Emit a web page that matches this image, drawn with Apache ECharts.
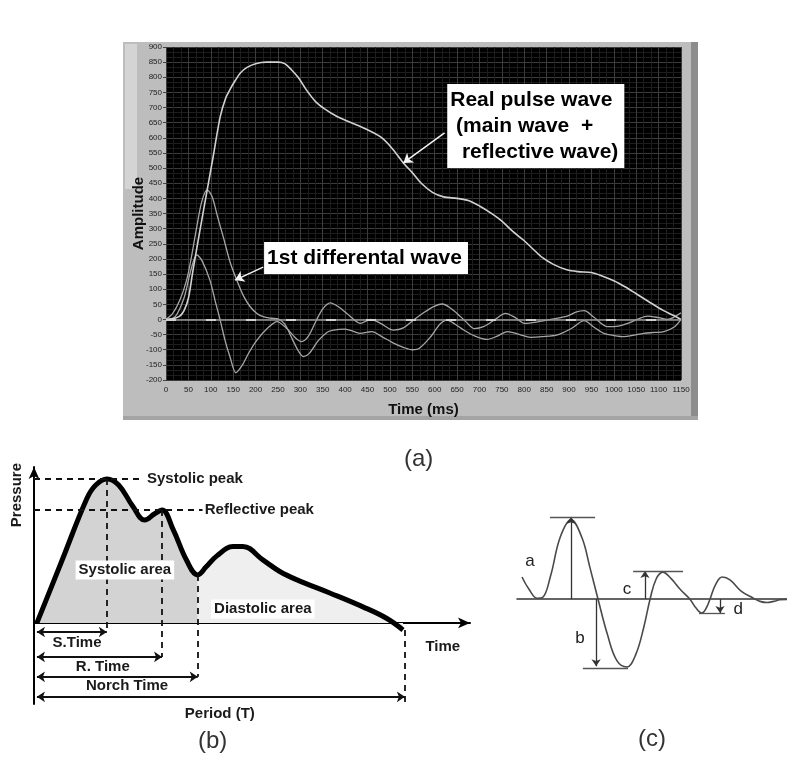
<!DOCTYPE html>
<html>
<head>
<meta charset="utf-8">
<script src="https://cdn.jsdelivr.net/npm/echarts@6/dist/echarts.min.js"></script>
<style>
html, body { margin: 0; padding: 0; background: #fff; }
#chart-container { width: 787px; height: 760px; }
</style>
</head>
<body>
<div id="chart-container"></div>
<script>
// ---- (a) recorded waves: [time ms, amplitude]
var pulseWave = [[0,0],[15,2],[30,10],[40,28],[50,70],[60,160],[76,296],[92,428],[105,535],[121,669],[133,730],[143,760],[155,790],[166,814],[180,832],[200,845],[225,850],[250,850],[265,845],[280,825],[295,800],[315,755],[335,718],[355,695],[380,672],[410,652],[445,630],[480,602],[505,565],[530,517],[550,485],[570,450],[595,420],[620,405],[650,400],[675,393],[700,375],[725,352],[750,325],[775,290],[800,260],[820,232],[840,205],[865,182],[895,164],[920,158],[950,155],[975,143],[1000,128],[1025,108],[1050,85],[1080,57],[1110,30],[1135,12],[1150,0]];
var diffWaveB = [[0,0],[15,20],[31,64],[46,130],[56,200],[68,300],[80,390],[92,428],[103,405],[115,340],[128,272],[143,190],[158,130],[173,78],[188,42],[203,20],[217,9],[235,4],[250,2],[265,-15],[282,-65],[296,-105],[307,-123],[320,-112],[340,-70],[360,-42],[374,-35],[400,-32],[420,-40],[434,-46],[450,-42],[460,-40],[480,-55],[508,-78],[530,-92],[550,-100],[565,-96],[591,-57],[612,-15],[628,-2],[645,-15],[665,-35],[690,-55],[717,-66],[740,-55],[762,-40],[790,-50],[814,-59],[840,-57],[874,-51],[905,-30],[934,-4],[955,-25],[978,-46],[1000,-53],[1023,-57],[1045,-52],[1067,-46],[1090,-43],[1112,-40],[1135,-25],[1150,0]];
var diffWaveC = [[0,0],[20,8],[40,70],[55,160],[69,213],[80,195],[98,130],[110,60],[121,-2],[132,-70],[143,-124],[156,-176],[170,-152],[185,-110],[203,-68],[226,-30],[248,-7],[270,-30],[290,-62],[303,-73],[318,-55],[335,-5],[350,35],[367,55],[385,42],[404,20],[434,-13],[457,0],[478,-12],[508,-35],[530,-28],[550,-5],[575,22],[600,44],[617,51],[635,38],[650,20],[670,-8],[688,-30],[709,-24],[735,0],[758,20],[780,6],[800,-13],[830,-8],[859,0],[896,11],[915,24],[934,29],[955,8],[986,-24],[1010,-22],[1031,-13],[1055,2],[1075,11],[1100,6],[1120,0],[1135,8],[1150,22]];
var waveLabels = [
  ['Real pulse wave\n (main wave  +\n  reflective wave)', 628, 778],
  ['1st differental wave', 219, 256]
];
var waveArrows = [[[622,616],[530,517]], [[217,173],[154,130]]];

// ---- (b) schematic pulse: [% of period, pressure]
var schemePulse = [[0,0],[6.8,40],[13.6,80],[16,88.5],[19,92.3],[22.2,88.5],[26,75],[29.3,66],[32,70],[34,72.4],[37,60],[40.7,40],[43.7,30.8],[46,36],[48.9,43],[53.3,49],[56,49],[61.4,40.4],[66,33],[70.7,27.6],[79.6,19.2],[88.6,10.3],[95,3],[99.5,-4.5]];
var notchTime = 43.7;
var schemeDashes = [
  [[-0.8,92.3],[29,92.3]], [[-0.8,72.4],[45,72.4]],
  [[19,92.3],[19,-5.8]], [[34,72.4],[34,-21.8]],
  [[43.7,30.8],[43.7,-34.6]], [[100,-4.5],[100,-52]]
];
var schemeSpans = [
  [[0,-5.8],[19,-5.8]], [[0,-21.8],[34,-21.8]],
  [[0,-34.6],[43.7,-34.6]], [[0,-47.4],[100,-47.4]]
];
var schemeLabels = [
  ['Systolic peak', 29.9, 92.3, 'left'],
  ['Reflective peak', 45.6, 72.4, 'left'],
  ['S.Time', 10.9, -12.6, 'center'],
  ['R. Time', 17.9, -28.2, 'center'],
  ['Norch Time', 24.5, -40.6, 'center'],
  ['Period (T)', 49.7, -58.3, 'center'],
  ['Time', 110.3, -15.4, 'center']
];
var areaLabels = [['Systolic area', 23.9, 34], ['Diastolic area', 61.4, 9]];

// ---- (c) first derivative sketch: [position, amplitude]
var derivWave = [[1.85,27.8],[4.5,12],[7.5,1],[9.5,2],[12.5,30],[16,78],[20,100],[24,78],[27,40],[30,0],[33.5,-45],[37,-78],[40.7,-86],[44,-70],[47,-35],[49.3,0],[51.5,25],[54,34],[57,26],[60.5,12],[64,0],[66,-10],[68.5,-17.7],[70,-12],[71.5,0],[73.5,18],[76,27.8],[79,24],[83,10],[87.4,1.3],[90,-3],[92.6,-4.5],[95,-3],[97.4,-1],[100,-0.5]];
var derivArrows = [[[20,0],[20,103.8]], [[29.3,0],[29.3,-85]], [[47.4,0],[47.4,35.4]], [[75.2,0],[75.2,-17.7]]];
var derivLevels = [[[12.2,103.8],[28.9,103.8]], [[24.4,-87.3],[41.1,-87.3]], [[43,35.4],[61.5,35.4]], [[67.4,-17.7],[77,-17.7]]];
var derivLabels = [['a', 4.8, 48], ['b', 23.3, -49.4], ['c', 40.7, 12.7], ['d', 81.9, -12.7]];

var chartDom = document.getElementById('chart-container');
var myChart = echarts.init(chartDom);
var sans = 'Liberation Sans, Arial, sans-serif';

function segs(list) {
  return list.map(function (s) { return [{ coord: s[0] }, { coord: s[1] }]; });
}
function hiddenAxis(idx, min, max) {
  return { gridIndex: idx, type: 'value', min: min, max: max, axisLabel: { show: false },
    axisTick: { show: false }, splitLine: { show: false }, axisLine: { show: false } };
}
function textSeries(xi, yi, data, label) {
  return { type: 'scatter', xAxisIndex: xi, yAxisIndex: yi, symbolSize: 0, clip: false, z: 6,
    silent: true, itemStyle: { opacity: 1 }, data: data, label: label };
}
function plain(v) { return String(v); }

var option = {
  animation: false,
  backgroundColor: '#fff',
  title: [
    { text: '(a)', left: 404, top: 447, padding: 0, textStyle: { fontSize: 24, fontWeight: 'normal', color: '#333', fontFamily: sans } },
    { text: '(b)', left: 198, top: 729, padding: 0, textStyle: { fontSize: 24, fontWeight: 'normal', color: '#333', fontFamily: sans } },
    { text: '(c)', left: 638, top: 727, padding: 0, textStyle: { fontSize: 24, fontWeight: 'normal', color: '#333', fontFamily: sans } }
  ],
  graphic: [
    { type: 'rect', z: -10, shape: { x: 123, y: 42, width: 575, height: 378 }, style: { fill: '#bdbdbd' } },
    { type: 'rect', z: -10, shape: { x: 125, y: 44, width: 12, height: 145 }, style: { fill: '#d4d4d4' } },
    { type: 'rect', z: -10, shape: { x: 691, y: 42, width: 7, height: 378 }, style: { fill: '#8c8c8c' } },
    { type: 'rect', z: -10, shape: { x: 123, y: 416, width: 575, height: 4 }, style: { fill: '#a4a4a4' } }
  ],
  grid: [
    { left: 166, top: 47, width: 515, height: 333, show: true, backgroundColor: '#000', borderWidth: 0 },
    { left: 34, top: 467, width: 436, height: 237 },
    { left: 517, top: 512, width: 270, height: 174 }
  ],
  xAxis: [
    { gridIndex: 0, type: 'value', min: 0, max: 1150, interval: 50,
      name: 'Time (ms)', nameLocation: 'middle', nameGap: 22, nameMoveOverlap: false,
      nameTextStyle: { fontSize: 15, fontWeight: 'bold', color: '#111', fontFamily: sans },
      axisLine: { show: false },
      axisTick: { show: true, length: 3, lineStyle: { color: '#444' } },
      axisLabel: { interval: 0, fontSize: 8, color: '#222', margin: 6, fontFamily: sans, formatter: plain, hideOverlap: false },
      splitLine: { show: true, lineStyle: { color: '#3c3c3c', width: 1 } },
      minorTick: { show: false, splitNumber: 3 },
      minorSplitLine: { show: true, lineStyle: { color: '#1d1d1d', width: 1 } } },
    { gridIndex: 1, type: 'value', min: -0.8, max: 117.7,
      axisLine: { show: true, onZero: true, symbol: ['none', 'arrow'], symbolSize: [8, 12], lineStyle: { color: '#000', width: 2 } },
      axisTick: { show: false }, axisLabel: { show: false }, splitLine: { show: false } },
    { gridIndex: 2, type: 'value', min: 0, max: 100,
      axisLine: { show: true, onZero: true, lineStyle: { color: '#333', width: 1.5 } },
      axisTick: { show: false }, axisLabel: { show: false }, splitLine: { show: false } }
  ],
  yAxis: [
    { gridIndex: 0, type: 'value', min: -200, max: 900, interval: 50,
      name: 'Amplitude', nameLocation: 'middle', nameGap: 20, nameRotate: 90, nameMoveOverlap: false,
      nameTextStyle: { fontSize: 15, fontWeight: 'bold', color: '#111', fontFamily: sans },
      axisLine: { show: false },
      axisTick: { show: true, length: 3, lineStyle: { color: '#444' } },
      axisLabel: { fontSize: 8, color: '#222', margin: 4, fontFamily: sans, formatter: plain },
      splitLine: { show: true, lineStyle: { color: '#3c3c3c', width: 1 } },
      minorTick: { show: false, splitNumber: 3 },
      minorSplitLine: { show: true, lineStyle: { color: '#1d1d1d', width: 1 } } },
    { gridIndex: 1, type: 'value', min: -52, max: 100,
      axisLine: { show: true, onZero: false, symbol: ['none', 'arrow'], symbolSize: [8, 12], lineStyle: { color: '#000', width: 2 } },
      axisTick: { show: false }, axisLabel: { show: false }, splitLine: { show: false } },
    hiddenAxis(2, -110, 110)
  ],
  series: [
    // (a)
    { type: 'line', xAxisIndex: 0, yAxisIndex: 0, data: [], silent: true,
      markLine: { silent: true, symbol: 'none', label: { show: false },
        lineStyle: { color: '#9a9a9a', width: 1.5, type: 'solid' }, data: [{ yAxis: 0 }] } },
    { type: 'line', xAxisIndex: 0, yAxisIndex: 0, data: [], silent: true,
      markLine: { silent: true, symbol: 'none', label: { show: false },
        lineStyle: { color: '#d0d0d0', width: 2, type: [10, 30] }, data: [{ yAxis: 0 }] } },
    { type: 'line', xAxisIndex: 0, yAxisIndex: 0, data: diffWaveB, smooth: 0.3, showSymbol: false,
      lineStyle: { color: '#a6a6a6', width: 1.3 } },
    { type: 'line', xAxisIndex: 0, yAxisIndex: 0, data: diffWaveC, smooth: 0.3, showSymbol: false,
      lineStyle: { color: '#a6a6a6', width: 1.3 } },
    { type: 'line', xAxisIndex: 0, yAxisIndex: 0, data: pulseWave, smooth: 0.3, showSymbol: false,
      lineStyle: { color: '#d2d2d2', width: 1.6 } },
    { type: 'line', xAxisIndex: 0, yAxisIndex: 0, data: [], silent: true,
      markLine: { silent: true, symbol: ['none', 'arrow'], symbolSize: 9, label: { show: false },
        lineStyle: { color: '#f4f4f4', width: 1.5, type: 'solid' }, data: segs(waveArrows) } },
    textSeries(0, 0, waveLabels.map(function (l) { return { name: l[0], value: [l[1], l[2]] }; }),
      { show: true, position: [0, 0], align: 'left', verticalAlign: 'top', formatter: '{b}',
        backgroundColor: '#fff', padding: [3, 6, 3, 3], fontSize: 21, lineHeight: 26,
        fontWeight: 'bold', color: '#000', fontFamily: sans }),

    // (b)
    { type: 'line', xAxisIndex: 1, yAxisIndex: 1, smooth: 0.4, showSymbol: false, z: 1,
      data: schemePulse.filter(function (p) { return p[0] <= notchTime; }),
      lineStyle: { width: 0 }, areaStyle: { color: '#d3d3d3', opacity: 1 } },
    { type: 'line', xAxisIndex: 1, yAxisIndex: 1, smooth: 0.4, showSymbol: false, z: 1,
      data: schemePulse.filter(function (p) { return p[0] >= notchTime; }),
      lineStyle: { width: 0 }, areaStyle: { color: '#efefef', opacity: 1 } },
    { type: 'line', xAxisIndex: 1, yAxisIndex: 1, data: [], silent: true, z: 3,
      markLine: { silent: true, symbol: 'none', label: { show: false },
        lineStyle: { color: '#111', width: 1.8, type: [6, 5] }, data: segs(schemeDashes) } },
    { type: 'line', xAxisIndex: 1, yAxisIndex: 1, data: [], silent: true, z: 3,
      markLine: { silent: true, symbol: ['arrow', 'arrow'], symbolSize: 8, label: { show: false },
        lineStyle: { color: '#111', width: 1.8, type: 'solid' }, data: segs(schemeSpans) } },
    { type: 'line', xAxisIndex: 1, yAxisIndex: 1, data: schemePulse, smooth: 0.4, showSymbol: false, z: 4,
      lineStyle: { color: '#000', width: 5 } },
    textSeries(1, 1, schemeLabels.map(function (l) {
        return { name: l[0], value: [l[1], l[2]], label: { align: l[3] } }; }),
      { show: true, position: [0, 0], verticalAlign: 'middle', formatter: '{b}',
        fontSize: 15, fontWeight: 'bold', color: '#1a1a1a', fontFamily: sans }),
    textSeries(1, 1, areaLabels.map(function (l) { return { name: l[0], value: [l[1], l[2]] }; }),
      { show: true, position: [0, 0], align: 'center', verticalAlign: 'middle', formatter: '{b}',
        backgroundColor: '#fff', padding: [2, 3, 2, 3],
        fontSize: 15, fontWeight: 'bold', color: '#1a1a1a', fontFamily: sans }),
    textSeries(1, 1, [{ name: 'Pressure', value: [-5.4, 82] }],
      { show: true, position: [0, 0], align: 'center', verticalAlign: 'middle', rotate: 90, formatter: '{b}',
        fontSize: 15, fontWeight: 'bold', color: '#1a1a1a', fontFamily: sans }),

    // (c)
    { type: 'line', xAxisIndex: 2, yAxisIndex: 2, data: derivWave, smooth: 0.4, showSymbol: false, z: 4,
      lineStyle: { color: '#4a4a4a', width: 1.6 } },
    { type: 'line', xAxisIndex: 2, yAxisIndex: 2, data: [], silent: true, z: 3,
      markLine: { silent: true, symbol: ['none', 'arrow'], symbolSize: 7, label: { show: false },
        lineStyle: { color: '#333', width: 1.3, type: 'solid' }, data: segs(derivArrows) } },
    { type: 'line', xAxisIndex: 2, yAxisIndex: 2, data: [], silent: true, z: 3,
      markLine: { silent: true, symbol: 'none', label: { show: false },
        lineStyle: { color: '#555', width: 1.3, type: 'solid' }, data: segs(derivLevels) } },
    textSeries(2, 2, derivLabels.map(function (l) { return { name: l[0], value: [l[1], l[2]] }; }),
      { show: true, position: [0, 0], align: 'center', verticalAlign: 'middle', formatter: '{b}',
        fontSize: 17, color: '#222', fontFamily: sans })
  ]
};

option && myChart.setOption(option);
</script>
</body>
</html>
